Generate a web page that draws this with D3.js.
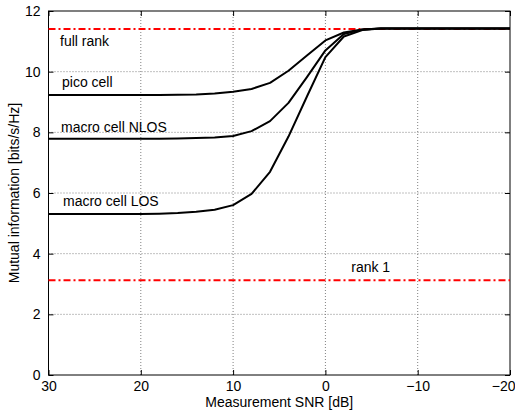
<!DOCTYPE html>
<html><head><meta charset="utf-8">
<script src="https://cdn.jsdelivr.net/npm/d3@7"></script>
<style>body{margin:0;background:#fff;} text{font-family:"Liberation Sans",Arial,Helvetica,sans-serif;}</style>
</head><body>
<svg id="c" width="515" height="410"></svg>
<script>
const snr = [30,28,26,24,22,20,18,16,14,12,10,8,6,4,2,0,-2,-4,-6,-8,-10,-12,-14,-16,-18,-20];
const picoCell   = [9.23,9.23,9.23,9.23,9.23,9.23,9.23,9.24,9.25,9.28,9.34,9.43,9.63,10.03,10.53,11.03,11.29,11.39,11.42,11.42,11.42,11.42,11.42,11.42,11.42,11.42];
const macroNLOS  = [7.79,7.79,7.79,7.79,7.79,7.79,7.79,7.80,7.81,7.83,7.88,8.04,8.37,8.97,9.82,10.70,11.24,11.39,11.42,11.42,11.42,11.42,11.42,11.42,11.42,11.42];
const macroLOS   = [5.31,5.31,5.31,5.31,5.31,5.31,5.32,5.34,5.38,5.45,5.60,5.97,6.70,7.86,9.18,10.48,11.16,11.37,11.42,11.42,11.42,11.42,11.42,11.42,11.42,11.42];
const fullRank = 11.41;
const rank1 = 3.12;
const xTicks = [30,20,10,0,-10,-20];
const yTicks = [0,2,4,6,8,10,12];
const curveLabels = [
  {text:"full rank", x:30, y:fullRank},
  {text:"pico cell", x:30, y:picoCell[0]},
  {text:"macro cell NLOS", x:30, y:macroNLOS[0]},
  {text:"macro cell LOS", x:30, y:macroLOS[0]},
  {text:"rank 1", x:-2.8, y:rank1}
];
const labelOffsets = [[11.5,17.5],[13.5,-8],[12.5,-6.5],[14.5,-8],[0,-8.5]];

const svg = d3.select("#c");
const L = 48.5, R = 510, T = 11, B = 375;
const x = d3.scaleLinear().domain([30,-20]).range([L,R]);
const y = d3.scaleLinear().domain([0,12]).range([B,T]);
const fmt = d => (d < 0 ? "\u2212" + Math.abs(d) : String(d));

// grid
const g = svg.append("g");
g.selectAll(".gx").data(xTicks.slice(1,-1)).enter().append("line")
  .attr("x1",d=>x(d)).attr("x2",d=>x(d)).attr("y1",T).attr("y2",B)
  .attr("stroke","#808080").attr("stroke-width",1).attr("stroke-dasharray","1,2");
g.selectAll(".gy").data(yTicks.slice(1,-1)).enter().append("line")
  .attr("x1",L).attr("x2",R).attr("y1",d=>y(d)).attr("y2",d=>y(d))
  .attr("stroke","#808080").attr("stroke-width",1).attr("stroke-dasharray","1,2");

// axes with inward ticks
const ax = svg.append("g").attr("transform",`translate(0,${B})`)
  .call(d3.axisBottom(x).tickValues(xTicks).tickFormat(fmt).tickSizeInner(-5).tickSizeOuter(0).tickPadding(6));
const axT = svg.append("g").attr("transform",`translate(0,${T})`)
  .call(d3.axisTop(x).tickValues(xTicks).tickFormat("").tickSizeInner(-5).tickSizeOuter(0));
const ay = svg.append("g").attr("transform",`translate(${L},0)`)
  .call(d3.axisLeft(y).tickValues(yTicks).tickFormat(fmt).tickSizeInner(-5).tickSizeOuter(0).tickPadding(8));
const ayR = svg.append("g").attr("transform",`translate(${R},0)`)
  .call(d3.axisRight(y).tickValues(yTicks).tickFormat("").tickSizeInner(-5).tickSizeOuter(0));
[ax,axT,ay,ayR].forEach(a=>{
  a.select(".domain").remove();
  a.selectAll("line").attr("stroke","#000");
  a.selectAll("text").attr("font-size",14).attr("fill","#000")
   .style("font-family","'Liberation Sans',Arial,Helvetica,sans-serif");
});
// keep last x tick label inside the picture, as in the reference
ax.selectAll(".tick text").filter(d=>d===-20).attr("text-anchor","end").attr("x",5);
svg.append("rect").attr("x",L).attr("y",T).attr("width",R-L).attr("height",B-T)
  .attr("fill","none").attr("stroke","#000").attr("stroke-width",1);

// reference lines
[fullRank, rank1].forEach(v=>{
  svg.append("line").attr("x1",L).attr("x2",R).attr("y1",y(v)).attr("y2",y(v))
    .attr("stroke","#ff0000").attr("stroke-width",2).attr("stroke-dasharray","7,3,2,3");
});

// curves
const line = d3.line().x((d,i)=>x(snr[i])).y(d=>y(d));
[macroLOS, macroNLOS, picoCell].forEach(s=>{
  svg.append("path").datum(s).attr("d",line).attr("fill","none")
    .attr("stroke","#000").attr("stroke-width",2).attr("stroke-linejoin","round");
});

// labels
curveLabels.forEach((c,i)=>{
  svg.append("text").attr("x",x(c.x)+labelOffsets[i][0]).attr("y",y(c.y)+labelOffsets[i][1])
    .attr("font-size",14).attr("fill","#000").text(c.text);
});

// axis titles
svg.append("text").attr("x",(L+R)/2).attr("y",406.5).attr("text-anchor","middle")
  .attr("font-size",14).text("Measurement SNR [dB]");
svg.append("text").attr("transform",`translate(19,${(T+B)/2}) rotate(-90)`)
  .attr("text-anchor","middle").attr("font-size",14).text("Mutual information [bits/s/Hz]");
</script>
</body></html>
